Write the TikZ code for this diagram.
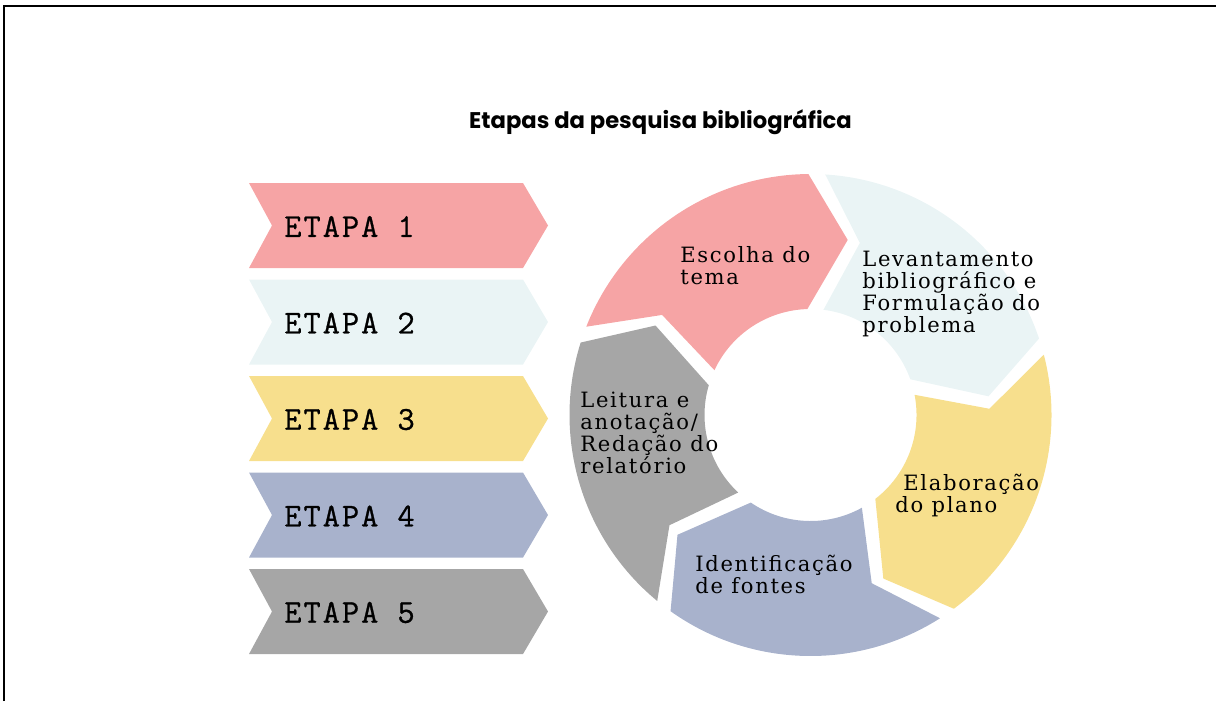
\documentclass[tikz,border=0pt]{standalone}
\usepackage{fontspec}
\newfontfamily\titlefont{Poppins}
\newfontfamily\etapafont{lmmono12-regular.otf}[LetterSpace=6, FakeBold=0.8]
\newfontfamily\ringfont{DejaVu Serif}[LetterSpace=8]
\definecolor{pinkA}{RGB}{246,164,165}
\definecolor{iceA}{RGB}{234,244,245}
\definecolor{sandA}{RGB}{247,223,141}
\definecolor{steelA}{RGB}{168,178,204}
\definecolor{greyA}{RGB}{166,166,166}
\begin{document}
\begin{tikzpicture}[x=0.02cm, y=0.02cm,
    etapa/.style = {anchor=west, inner sep=0, font=\etapafont\fontsize{19}{19}\selectfont},
    ringtxt/.style = {anchor=north west, inner sep=0, align=left, font=\ringfont\fontsize{12}{12.5}\selectfont}]
  \useasboundingbox (0,0) rectangle (1216,-701);
  \draw[line width=1.5pt] (4,-701) -- (4,-6) -- (1216,-6);
  \node[anchor=base, inner sep=0, font=\titlefont\bfseries\fontsize{12.9}{12.9}\selectfont] (title) at (660.5,-128) {Etapas da pesquisa bibliográfica};
  \foreach \i/\col in {1/pinkA, 2/iceA, 3/sandA, 4/steelA, 5/greyA} {
    \pgfmathsetmacro\t{-183-96.5*(\i-1)}
    \pgfmathsetmacro\m{\t-42.5}
    \pgfmathsetmacro\b{\t-85}
    \fill[\col] (249,\t) -- (523,\t) -- (548,\m) -- (523,\b) -- (249,\b) -- (272,\m) -- cycle;
    \node[etapa] (etapa\i) at (284,\m-1) {ETAPA \i};
  }
  \begin{scope}[shift={(810.5,-415)}]
    \foreach \k/\col in {0/pinkA, 1/iceA, 2/sandA, 3/steelA, 4/greyA} {
      \pgfmathsetmacro\o{158.5-72*\k}
      \pgfmathsetmacro\h{\o-68}
      \pgfmathsetmacro\p{\o-80.5}
      \pgfmathsetmacro\hi{\o-66.8}
      \pgfmathsetmacro\ti{\o-3.5}
      \pgfmathsetmacro\n{\o-12.5}
      \fill[\col] (\o:241) arc[start angle=\o, end angle=\h, radius=241] -- (\p:179)
        -- (\hi:106) arc[start angle=\hi, end angle=\ti, radius=106] -- (\n:179) -- cycle;
    }
  \end{scope}
  \node[ringtxt] (escolha) at (680,-246) {Escolha do\\tema};
  \node[ringtxt] (levant) at (862,-251) {Levantamento\\bibliográfico e\\Formulação do\\problema};
  \node[ringtxt] (leitura) at (580,-392) {Leitura e\\anotação/\\Redação do\\relatório};
  \node[ringtxt] (elabora) at (895,-474) {\hspace*{0.16cm}Elaboração\\do plano};
  \node[ringtxt] (identif) at (695,-555) {Identificação\\de fontes};
\end{tikzpicture}
\end{document}
